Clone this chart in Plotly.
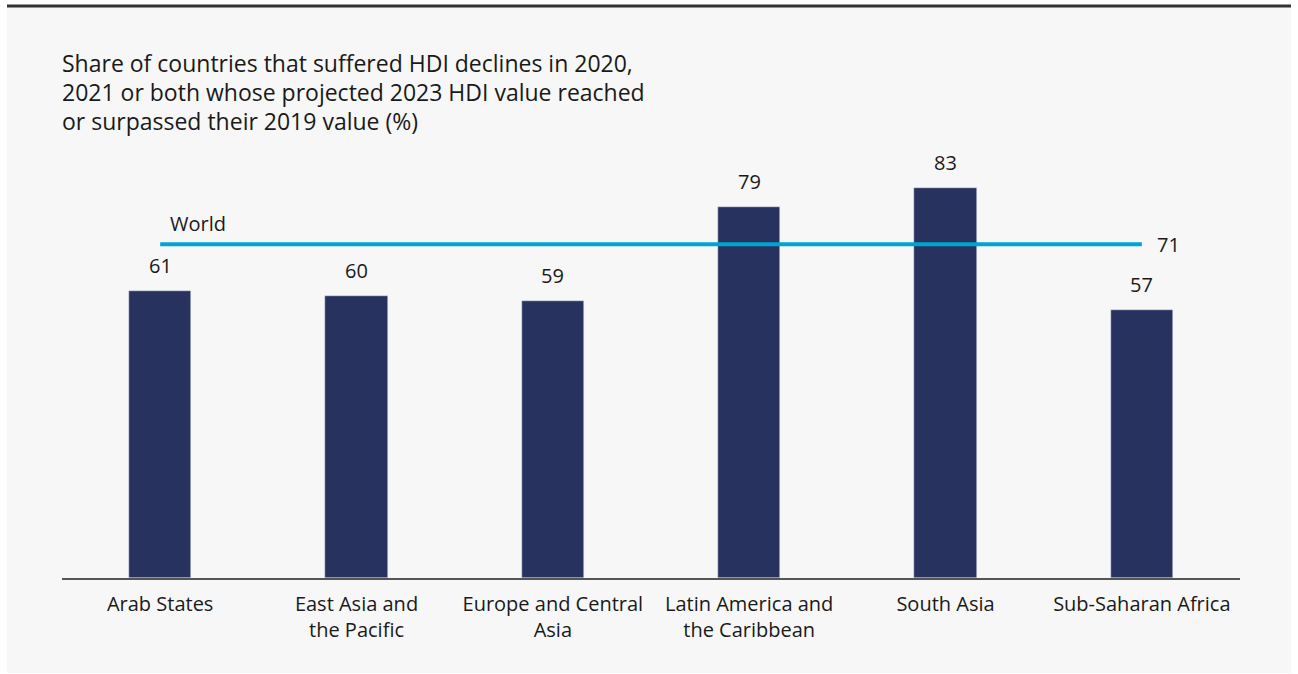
import plotly.graph_objects as go

categories = ["Arab States", "East Asia and<br>the Pacific", "Europe and Central<br>Asia",
              "Latin America and<br>the Caribbean", "South Asia", "Sub-Saharan Africa"]
values = [61, 60, 59, 79, 83, 57]
world_value = 71
world_label = "World"
title_lines = ["Share of countries that suffered HDI declines in 2020,",
               "2021 or both whose projected 2023 HDI value reached",
               "or surpassed their 2019 value (%)"]

FONT = "Open Sans"
TXT = "#1a1a1a"
BAR = "#28325e"
LINE = "#00a5cf"

fig = go.Figure()
fig.add_trace(go.Bar(x=categories, y=values, marker_color=BAR, width=0.316,
                     hoverinfo="skip"))
fig.add_trace(go.Scatter(x=categories, y=[world_value] * len(categories), mode="lines",
                         line=dict(color=LINE, width=4), hoverinfo="skip"))

ann = []
for c, v in zip(categories, values):
    ann.append(dict(x=c, y=v, text=str(v), showarrow=False, xanchor="center",
                    yanchor="bottom", yshift=10, font=dict(family=FONT, size=20, color=TXT)))
ann.append(dict(x=categories[0], y=world_value, text=world_label, showarrow=False,
                xanchor="left", yanchor="middle", xshift=8, yshift=21,
                font=dict(family=FONT, size=20, color=TXT)))
ann.append(dict(x=categories[-1], y=world_value, text=str(world_value), showarrow=False,
                xanchor="left", yanchor="middle", xshift=13, yshift=0,
                font=dict(family=FONT, size=20, color=TXT)))
for i, (line, ypx) in enumerate(zip(title_lines, [63, 92, 121])):
    ann.append(dict(xref="paper", yref="paper", x=0, y=(578 - ypx) / 470, text=line,
                    showarrow=False, xanchor="left", yanchor="middle", xshift=-2,
                    font=dict(family=FONT, size=23, color=TXT)))

shapes = [
    dict(type="rect", xref="paper", yref="paper", x0=(7 - 62) / 1178, x1=(1291 - 62) / 1178,
         y0=(578 - 673) / 470, y1=(578 - 7) / 470, fillcolor="#f7f7f7", line=dict(width=0),
         layer="below"),
    dict(type="line", xref="paper", yref="paper", x0=(7 - 62) / 1178, x1=(1291 - 62) / 1178,
         y0=(578 - 6) / 470, y1=(578 - 6) / 470, line=dict(color="#333333", width=3)),
]

fig.update_layout(
    width=1298, height=674,
    margin=dict(l=62, r=58, t=108, b=96),
    paper_bgcolor="white", plot_bgcolor="rgba(0,0,0,0)",
    showlegend=False, bargap=0,
    annotations=ann, shapes=shapes,
    xaxis=dict(showgrid=False, showline=True, linecolor="#555555", linewidth=2,
               ticks="", ticklabelstandoff=7,
               tickfont=dict(family=FONT, size=20, color=TXT), fixedrange=True),
    yaxis=dict(range=[0, 100], visible=False, showgrid=False, fixedrange=True),
)

fig.write_html("out.html", config={"displayModeBar": False},
               post_script="document.body.style.margin='0';document.body.style.overflow='hidden';")
